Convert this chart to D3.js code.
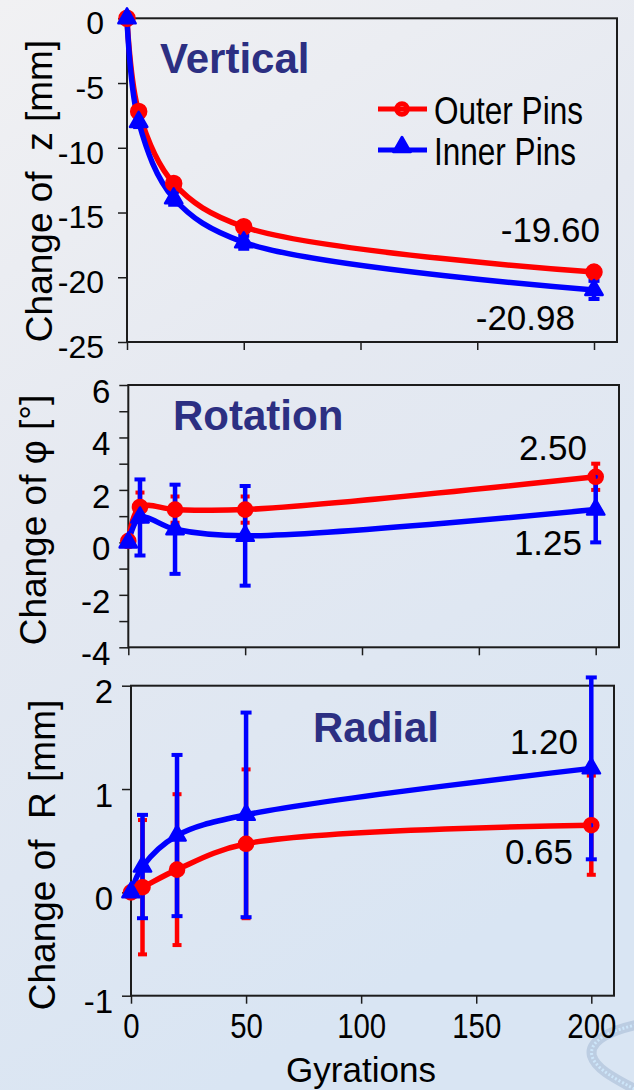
<!DOCTYPE html>
<html><head><meta charset="utf-8">
<script src="https://cdn.jsdelivr.net/npm/d3@7"></script>
<style>body{margin:0;background:#e6ebf2} svg{display:block}</style>
</head><body>
<svg id="c" width="634" height="1090"></svg>
<script>
// ---------- DATA ----------
const gyrations = [0, 5, 20, 50, 200];
const xTicks = [0, 50, 100, 150, 200];
const seriesNames = ["Outer Pins", "Inner Pins"];

const vertOuter    = [0, -7.2, -12.75, -16.1, -19.60];
const vertOuterErr = [0, 0.3, 0.3, 0.3, 0.3];
const vertInner    = [0, -8.0, -13.9, -17.3, -20.98];
const vertInnerErr = [0, 0.4, 0.5, 0.5, 0.7];

const rotOuter    = [0.05, 1.35, 1.25, 1.25, 2.50];
const rotOuterErr = [0, 0.55, 0.5, 0.5, 0.5];
const rotInner    = [0, 0.95, 0.5, 0.25, 1.25];
const rotInnerErr = [0, 1.45, 1.7, 1.9, 1.25];

const radOuter    = [0, 0.05, 0.22, 0.47, 0.65];
const radOuterErr = [0, 0.65, 0.73, 0.72, 0.48];
const radInner    = [0, 0.25, 0.55, 0.75, 1.20];
const radInnerErr = [0, 0.5, 0.78, 0.99, 0.88];

const vertTicks = [0, -5, -10, -15, -20, -25];
const rotTicks = [6, 4, 2, 0, -2, -4];
const rotMinor = [5, 3, 1, -1, -3];
const radTicks = [2, 1, 0, -1];

// ---------- STYLE / LAYOUT ----------
const RED = "#ff0000", BLUE = "#0000ff", TITLE = "#2c2f82";
const REG = "'Liberation Sans', Arial, sans-serif";

const svg = d3.select("#c");
const defs = svg.append("defs");
const grad = defs.append("linearGradient").attr("id", "bg")
  .attr("x1", 0).attr("y1", 0).attr("x2", 0.35).attr("y2", 1);
grad.append("stop").attr("offset", "0%").attr("stop-color", "#f1f1f3");
grad.append("stop").attr("offset", "45%").attr("stop-color", "#e5e9f1");
grad.append("stop").attr("offset", "100%").attr("stop-color", "#d9e5f3");
svg.append("rect").attr("width", 634).attr("height", 1090).attr("fill", "url(#bg)");

// decorative swoosh bottom-right
const swoosh = "M640,1024 C612,1030 588,1040 592,1056 C596,1070 618,1080 640,1092";
svg.append("path").attr("d", swoosh)
  .attr("fill", "none").attr("stroke", "#bccde2").attr("stroke-width", 10);
svg.append("path").attr("d", swoosh)
  .attr("fill", "none").attr("stroke", "#cde6fa").attr("stroke-width", 3).attr("stroke-dasharray", "2 2");

const panels = [
  {
    title: "Vertical", titleX: 160, titleY: 73,
    yTitle: "Change of  z [mm]", yTitleX: 52, yTitleY: 191,
    left: 127, right: 617, x0: 127, x200: 594, top: 18.3, bottom: 342,
    yDomain: [-25, 0], yTicks: vertTicks, yMinor: [], yLabelGap: 14, yFont: 32, yDy: "0.48em",
    outer: vertOuter, outerErr: vertOuterErr, inner: vertInner, innerErr: vertInnerErr,
    filledCircles: true,
    labOuter: { x: 600, y: 242 }, labInner: { x: 575, y: 330 },
    legend: true, xLabels: false
  },
  {
    title: "Rotation", titleX: 173, titleY: 430,
    yTitle: "Change of \u03c6 [\u00b0]", yTitleX: 46, yTitleY: 520,
    left: 128.3, right: 619, x0: 128.3, x200: 595.7, top: 385, bottom: 647.3,
    yDomain: [-4, 6], yTicks: rotTicks, yMinor: rotMinor, yLabelGap: 9, yFont: 33, yDy: "0.52em",
    outer: rotOuter, outerErr: rotOuterErr, inner: rotInner, innerErr: rotInnerErr,
    filledCircles: false,
    labOuter: { x: 587, y: 460 }, labInner: { x: 582, y: 555 },
    legend: false, xLabels: false
  },
  {
    title: "Radial", titleX: 313, titleY: 742,
    yTitle: "Change of  R [mm]", yTitleX: 55, yTitleY: 855,
    left: 131, right: 614, x0: 131, x200: 591.3, top: 685.7, bottom: 995.7,
    yDomain: [-1, 2], yTicks: radTicks, yMinor: [], yLabelGap: 9, yFont: 33, yDy: "0.52em",
    outer: radOuter, outerErr: radOuterErr, inner: radInner, innerErr: radInnerErr,
    filledCircles: false,
    labOuter: { x: 573, y: 864 }, labInner: { x: 578, y: 754 },
    legend: false, xLabels: true
  }
];

const fmtTick = d => String(d);
const fmtLab = v => v.toFixed(2);

function drawPanel(p) {
  const x = d3.scaleLinear().domain([0, 200]).range([p.x0, p.x200]);
  const y = d3.scaleLinear().domain(p.yDomain).range([p.bottom, p.top]);
  const G = svg.append("g");

  // y axis (major)
  const ya = G.append("g").attr("transform", `translate(${p.left},0)`)
    .call(d3.axisLeft(y).tickValues(p.yTicks).tickSize(9).tickPadding(p.yLabelGap).tickFormat(fmtTick));
  ya.select(".domain").remove();
  ya.selectAll("line").attr("stroke", "#1c1c1c").attr("stroke-width", 1.5);
  ya.selectAll("text").attr("font-family", REG).attr("font-size", p.yFont).attr("fill", "#000").attr("dy", p.yDy);
  if (p.yMinor.length) {
    const ym = G.append("g").attr("transform", `translate(${p.left},0)`)
      .call(d3.axisLeft(y).tickValues(p.yMinor).tickSize(9).tickFormat(""));
    ym.select(".domain").remove();
    ym.selectAll("line").attr("stroke", "#1c1c1c").attr("stroke-width", 1.5);
  }
  // x axis
  const xa = G.append("g").attr("transform", `translate(0,${p.bottom})`)
    .call(d3.axisBottom(x).tickValues(xTicks).tickSize(8).tickPadding(9)
      .tickFormat(p.xLabels ? fmtTick : ""));
  xa.select(".domain").remove();
  xa.selectAll("line").attr("stroke", "#1c1c1c").attr("stroke-width", 1.5);
  xa.selectAll("text").attr("font-family", REG).attr("font-size", 35).attr("fill", "#000")
    .attr("transform", "scale(0.84,1)");

  // frame
  G.append("rect").attr("x", p.left).attr("y", p.top)
    .attr("width", p.right - p.left).attr("height", p.bottom - p.top)
    .attr("fill", "none").attr("stroke", "#1c1c1c").attr("stroke-width", 2);

  // title
  G.append("text").attr("x", p.titleX).attr("y", p.titleY).text(p.title)
    .attr("font-family", REG).attr("font-weight", "bold").attr("font-size", 42).attr("fill", TITLE);

  // y title
  G.append("text").attr("transform", `translate(${p.yTitleX},${p.yTitleY}) rotate(-90)`)
    .attr("text-anchor", "middle").style("white-space", "pre").attr("xml:space", "preserve")
    .text(p.yTitle)
    .attr("font-family", REG).attr("font-size", 37).attr("fill", "#000");

  const series = [
    { v: p.outer, e: p.outerErr, c: RED, m: "circle", cap: 9 },
    { v: p.inner, e: p.innerErr, c: BLUE, m: "tri", cap: 11 }
  ];
  const pts = s => gyrations.map((g, i) => ({ g, v: s.v[i], e: s.e[i] }));

  // error bars
  series.forEach(s => {
    const eb = G.append("g").selectAll("g").data(pts(s).filter(d => d.e > 0)).join("g");
    eb.append("line").attr("x1", d => x(d.g)).attr("x2", d => x(d.g))
      .attr("y1", d => y(d.v - d.e)).attr("y2", d => y(d.v + d.e))
      .attr("stroke", s.c).attr("stroke-width", 4.5);
    [-1, 1].forEach(k => {
      eb.append("line").attr("x1", d => x(d.g) - s.cap / 2).attr("x2", d => x(d.g) + s.cap / 2)
        .attr("y1", d => y(d.v + k * d.e)).attr("y2", d => y(d.v + k * d.e))
        .attr("stroke", s.c).attr("stroke-width", 4);
    });
  });
  // lines
  const line = d3.line().x(d => x(d.g)).y(d => y(d.v)).curve(d3.curveCatmullRom.alpha(0.5));
  series.forEach(s => {
    G.append("path").datum(pts(s)).attr("d", line).attr("fill", "none")
      .attr("stroke", s.c).attr("stroke-width", 5.5).attr("stroke-linejoin", "round");
  });
  // markers
  G.append("g").selectAll("circle").data(pts(series[0])).join("circle")
    .attr("cx", d => x(d.g)).attr("cy", d => y(d.v)).attr("r", p.filledCircles ? 8 : 5.3)
    .attr("fill", p.filledCircles ? RED : "none").attr("stroke", RED)
    .attr("stroke-width", p.filledCircles ? 1.5 : 6);
  const tri = d3.symbol().type(d3.symbolTriangle).size(130);
  G.append("g").selectAll("path").data(pts(series[1])).join("path")
    .attr("transform", d => `translate(${x(d.g)},${y(d.v)})`).attr("d", tri)
    .attr("fill", BLUE).attr("stroke", BLUE).attr("stroke-width", 2.5).attr("stroke-linejoin", "round");

  // end value labels
  const last = gyrations.length - 1;
  G.append("text").attr("x", p.labOuter.x).attr("y", p.labOuter.y).attr("text-anchor", "end")
    .text(fmtLab(p.outer[last])).attr("font-family", REG).attr("font-size", 35).attr("fill", "#000");
  G.append("text").attr("x", p.labInner.x).attr("y", p.labInner.y).attr("text-anchor", "end")
    .text(fmtLab(p.inner[last])).attr("font-family", REG).attr("font-size", 35).attr("fill", "#000");

  if (p.legend) {
    const L = G.append("g");
    const items = [
      { name: seriesNames[0], c: RED, m: "circle", y: 109 },
      { name: seriesNames[1], c: BLUE, m: "tri", y: 150 }
    ];
    items.forEach(it => {
      L.append("line").attr("x1", 378).attr("x2", 427).attr("y1", it.y).attr("y2", it.y)
        .attr("stroke", it.c).attr("stroke-width", 5);
      if (it.m === "circle") {
        L.append("circle").attr("cx", 402).attr("cy", it.y).attr("r", 5.3)
          .attr("fill", "none").attr("stroke", it.c).attr("stroke-width", 5);
      } else {
        L.append("path").attr("transform", `translate(402,${it.y - 3})`).attr("d", tri)
          .attr("fill", it.c).attr("stroke", it.c).attr("stroke-width", 2.5).attr("stroke-linejoin", "round");
      }
      L.append("text").attr("transform", `translate(434,${it.y + 15}) scale(0.83,1)`).text(it.name)
        .attr("font-family", REG).attr("font-size", 38).attr("fill", "#000");
    });
  }
}

panels.forEach(drawPanel);

// x axis title
svg.append("text").attr("x", 361).attr("y", 1082).attr("text-anchor", "middle").text("Gyrations")
  .attr("font-family", REG).attr("font-size", 35).attr("fill", "#000");
</script>
</body></html>
